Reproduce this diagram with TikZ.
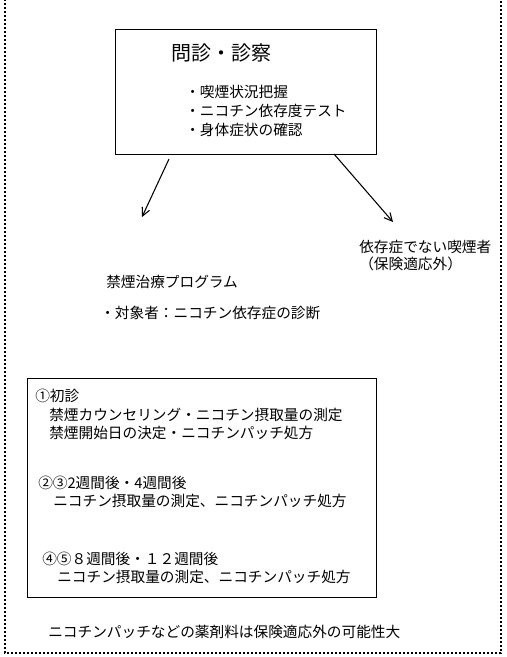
\documentclass[tikz,border=0pt]{standalone}
\usepackage{fontspec}
\setmainfont{Noto Sans CJK JP}
\usetikzlibrary{arrows.meta}
\begin{document}
\begin{tikzpicture}[x=0.75pt,y=-0.75pt,
  txt/.style={anchor=west,inner sep=0pt,font=\fontsize{11pt}{14pt}\selectfont},
  ttl/.style={anchor=west,inner sep=0pt,font=\fontsize{15pt}{18pt}\selectfont},
  frame/.style={draw=black,line width=0.8pt},
  outer/.style={draw=black,line width=0.9pt,dash pattern=on 1.5pt off 1.5pt},
  arr/.style={draw=black,line width=0.8pt,-{Straight Barb[length=6pt,width=6pt]}}]
\useasboundingbox (0,0) rectangle (507,657);
% outer dotted frame
\draw[outer] (5,-5) rectangle (501,653);
% top box
\node[frame,minimum width=261*0.75pt,minimum height=125*0.75pt,anchor=north west,inner sep=0pt] (top) at (115,29) {};
\node[ttl] (title) at (171,53) {問診・診察};
\node[txt] (b1) at (185,92) {・喫煙状況把握};
\node[txt] (b2) at (185,111) {・ニコチン依存度テスト};
\node[txt] (b3) at (185,130) {・身体症状の確認};
% arrows
\coordinate (s1) at (169,159);
\coordinate (e1) at (142,217);
\coordinate (s2) at (334,154);
\coordinate (e2) at (393,222);
\draw[arr] (s1) -- (e1);
\draw[arr] (s2) -- (e2);
% right label
\node[txt] (nd1) at (359,247) {依存症でない喫煙者};
\node[txt] (nd2) at (359,264) {（保険適応外）};
% program
\node[txt] (p1) at (106,282) {禁煙治療プログラム};
\node[txt] (p2) at (100,313) {・対象者：ニコチン依存症の診断};
% bottom box
\node[frame,minimum width=349*0.75pt,minimum height=219*0.75pt,anchor=north west,inner sep=0pt] (bot) at (27,378) {};
\node[txt] (l1) at (35,396) {①初診};
\node[txt] (l2) at (49,415) {禁煙カウンセリング・ニコチン摂取量の測定};
\node[txt] (l3) at (49,433) {禁煙開始日の決定・ニコチンパッチ処方};
\node[txt] (l4) at (38,483) {②③2週間後・4週間後};
\node[txt] (l5) at (53,501) {ニコチン摂取量の測定、ニコチンパッチ処方};
\node[txt] (l6) at (42,559) {④⑤８週間後・１２週間後};
\node[txt] (l7) at (57,577) {ニコチン摂取量の測定、ニコチンパッチ処方};
% footer
\node[txt] (ft) at (48,632) {ニコチンパッチなどの薬剤料は保険適応外の可能性大};
\end{tikzpicture}
\end{document}
